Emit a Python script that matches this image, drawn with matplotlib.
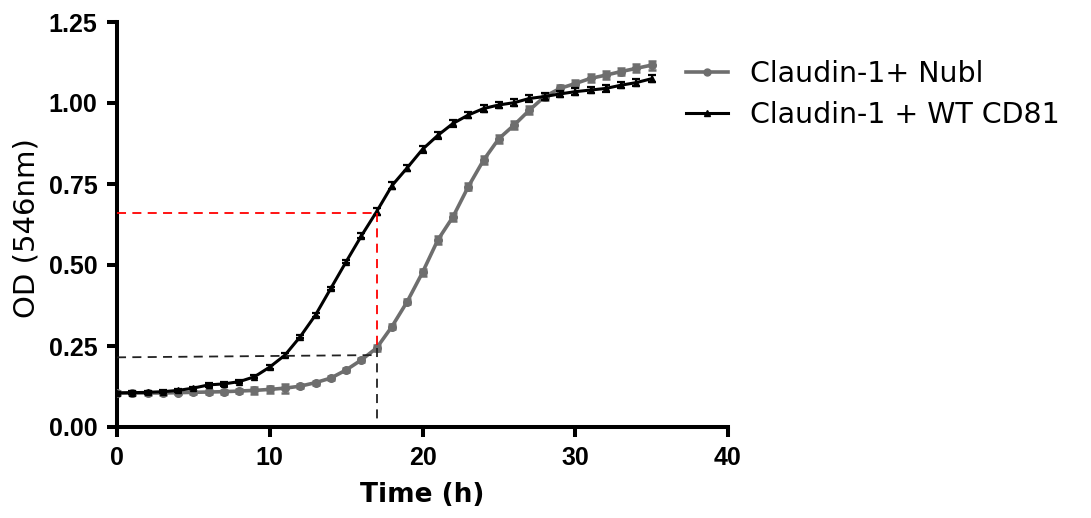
import numpy as np
import matplotlib.pyplot as plt
from matplotlib import rcParams
from matplotlib.lines import Line2D

rcParams['font.family'] = 'DejaVu Sans'
rcParams['axes.unicode_minus'] = False

### Growth curve data ---------------------------------------------------------

time_h = list(range(0, 36))

od_nubl = [0.105, 0.105, 0.105, 0.105, 0.106, 0.107, 0.108, 0.109, 0.111, 0.113,
           0.116, 0.120, 0.126, 0.137, 0.151, 0.176, 0.207, 0.244, 0.310, 0.387,
           0.477, 0.577, 0.649, 0.742, 0.824, 0.890, 0.932, 0.978, 1.020, 1.045,
           1.060, 1.076, 1.086, 1.097, 1.107, 1.117]
err_nubl = [0.006, 0.005, 0.005, 0.005, 0.005, 0.005, 0.005, 0.006, 0.006, 0.010,
            0.012, 0.014, 0.006, 0.006, 0.006, 0.006, 0.006, 0.008, 0.008, 0.008,
            0.010, 0.012, 0.012, 0.012, 0.012, 0.012, 0.012, 0.012, 0.012, 0.012,
            0.012, 0.012, 0.012, 0.012, 0.012, 0.014]

od_cd81 = [0.105, 0.106, 0.107, 0.109, 0.113, 0.120, 0.130, 0.133, 0.140, 0.155,
           0.185, 0.222, 0.279, 0.346, 0.428, 0.510, 0.590, 0.665, 0.745, 0.800,
           0.857, 0.900, 0.937, 0.963, 0.983, 0.994, 1.001, 1.014, 1.020, 1.028,
           1.035, 1.040, 1.045, 1.055, 1.063, 1.075]
err_cd81 = [0.004, 0.004, 0.004, 0.004, 0.004, 0.004, 0.005, 0.005, 0.005, 0.005,
            0.005, 0.005, 0.005, 0.005, 0.005, 0.005, 0.008, 0.010, 0.010, 0.010,
            0.010, 0.010, 0.010, 0.010, 0.010, 0.010, 0.010, 0.010, 0.010, 0.010,
            0.010, 0.010, 0.010, 0.010, 0.010, 0.010]

labels = ('Claudin-1+ Nubl', 'Claudin-1 + WT CD81')

# guide lines at t = 17 h
t_mark = 17
od_mark_cd81 = 0.66
od_mark_nubl = (0.215, 0.222)

grey = '#6e6e6e'


### Plot ----------------------------------------------------------------------

fig = plt.figure(figsize=(10.91, 5.18), dpi=100)
ax = fig.add_axes([117/1091, 91/518, 611/1091, 405/518])

ax.errorbar(time_h, od_nubl, yerr=err_nubl, color=grey, lw=2.6,
            marker='o', ms=5.5, mec=grey, capsize=3, capthick=1.8,
            elinewidth=1.8, zorder=3)
ax.errorbar(time_h, od_cd81, yerr=err_cd81, color='black', lw=2.2,
            marker='^', ms=4, capsize=3, capthick=1.6, elinewidth=1.6,
            zorder=4)

dash = (0, (5, 3.5))
ax.plot([0, t_mark], [od_mark_cd81, od_mark_cd81], color='red', lw=1.3, ls=dash, zorder=5)
ax.plot([t_mark, t_mark], [od_mark_cd81, od_nubl[t_mark]], color='red', lw=1.3, ls=dash, zorder=5)
ax.plot([0, t_mark], list(od_mark_nubl), color='#222222', lw=1.3, ls=dash, zorder=5)
ax.plot([t_mark, t_mark], [od_nubl[t_mark], 0.02], color='#222222', lw=1.3, ls=dash, zorder=5)

ax.set_xlim(0, 40)
ax.set_ylim(0, 1.25)
ax.set_xticks([0, 10, 20, 30, 40])
ax.set_yticks([0, 0.25, 0.5, 0.75, 1.0, 1.25])
ax.set_yticklabels(['%.2f' % v for v in ax.get_yticks()])

for side in ('top', 'right'):
    ax.spines[side].set_visible(False)
for side in ('left', 'bottom'):
    ax.spines[side].set_linewidth(2.9)
ax.tick_params(direction='out', length=7, width=2.9, labelsize=18, pad=7)
for lab in ax.get_xticklabels() + ax.get_yticklabels():
    lab.set_fontweight('bold')
    lab.set_family('Liberation Sans')

ax.set_xlabel('Time (h)', fontsize=19, fontweight='bold')
ax.set_ylabel('OD (546nm)', fontsize=21)
ax.xaxis.set_label_coords(0.5, -0.135)
ax.yaxis.set_label_coords(-0.125, 0.49)

# legend uses plain line + marker keys (no error bars)
keys = [Line2D([], [], color=grey, lw=2.6, marker='o', ms=5, mec=grey),
        Line2D([], [], color='black', lw=2.2, marker='^', ms=4.5)]
fig.legend(keys, labels, loc='upper left', bbox_to_anchor=(672/1091, 1 - 46/518),
           frameon=False, fontsize=20.5, handlelength=1.45, handletextpad=0.8,
           labelspacing=0.45, borderpad=0)

fig.savefig('out.png', dpi=100)
